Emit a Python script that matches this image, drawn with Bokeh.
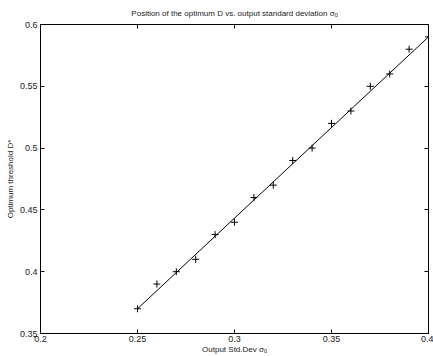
from bokeh.plotting import figure
from bokeh.models import LinearAxis, FixedTicker, Range1d, Title, CustomLabelingPolicy
from bokeh.embed import file_html
from bokeh.resources import INLINE

sigma_o = [0.25, 0.26, 0.27, 0.28, 0.29, 0.30, 0.31, 0.32, 0.33, 0.34, 0.35, 0.36, 0.37, 0.38, 0.39, 0.40]
d_opt = [0.37, 0.39, 0.40, 0.41, 0.43, 0.44, 0.46, 0.47, 0.49, 0.50, 0.52, 0.53, 0.55, 0.56, 0.58, 0.59]
fit_x = [0.25, 0.40]
fit_y = [0.370, 0.590]
x_ticks = [0.2, 0.25, 0.3, 0.35, 0.4]
y_ticks = [0.35, 0.4, 0.45, 0.5, 0.55, 0.6]

FONT = "Liberation Sans"
TXT = "#1a1a1a"

p = figure(width=433, height=356, output_backend="svg", toolbar_location=None,
           x_range=Range1d(0.2, 0.4), y_range=Range1d(0.35, 0.6),
           min_border_left=40, min_border_right=5, min_border_top=0, min_border_bottom=0,
           x_axis_label="Output Std.Dev σₒ", y_axis_label="Optimum threshold D*")
p.title = Title(text="Position of the optimum D vs. output standard deviation σₒ",
                align="center", text_font=FONT, text_font_size="8px",
                text_font_style="normal", text_color=TXT, standoff=13)
p.grid.visible = False
p.outline_line_color = "black"
p.outline_line_width = 1
p.background_fill_color = "white"
p.border_fill_color = "white"

def style(ax, ticks, labels=True):
    ax.ticker = FixedTicker(ticks=ticks)
    ax.major_tick_in = 4
    ax.major_tick_out = 0
    ax.minor_tick_in = 0
    ax.minor_tick_out = 0
    ax.axis_line_color = "black"
    ax.major_tick_line_color = "black"
    ax.major_label_text_font = FONT
    ax.major_label_text_font_size = "9px"
    ax.major_label_text_color = TXT
    ax.axis_label_text_font = FONT
    ax.axis_label_text_font_size = "8px"
    ax.axis_label_text_font_style = "normal"
    ax.axis_label_text_color = TXT
    if not labels:
        ax.major_label_policy = CustomLabelingPolicy(code="return new Set()")
        ax.major_label_text_font_size = "0px"
        ax.major_label_standoff = 0

style(p.xaxis[0], x_ticks)
style(p.yaxis[0], y_ticks)
p.xaxis[0].major_label_standoff = 2
p.xaxis[0].axis_label_standoff = 0
p.yaxis[0].major_label_standoff = 3
p.yaxis[0].axis_label_standoff = 2

top = LinearAxis()
style(top, x_ticks, labels=False)
right = LinearAxis()
style(right, y_ticks, labels=False)
p.add_layout(top, "above")
p.add_layout(right, "right")

p.line(fit_x, fit_y, line_color="black", line_width=1)
p.scatter(sigma_o, d_opt, marker="cross", size=7, line_color="black", line_width=1)

open("out.html", "w").write(file_html(p, INLINE))
